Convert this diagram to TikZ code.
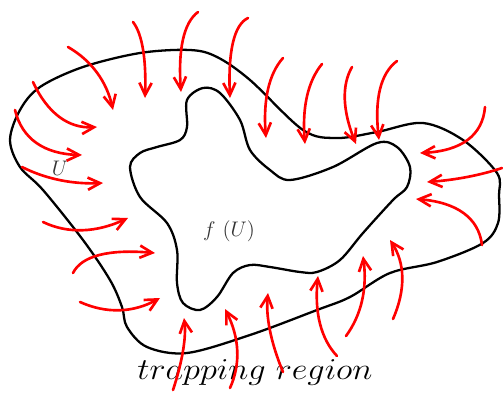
\documentclass[tikz,border=0pt]{standalone}
\usetikzlibrary{arrows.meta,calc}
\begin{document}
\begin{tikzpicture}[x=0.02cm,y=-0.02cm,line cap=round,
  flow/.style={red,line width=1.5pt,-{Straight Barb[length=7pt,width=7pt,line width=1.5pt]}},
  border/.style={black,line width=1.3pt}]
\useasboundingbox (0,0) rectangle (503,392);
% region U
\draw[border] plot[smooth cycle,tension=0.55] coordinates {(10,140) (20,110) (40,87) (83,67) (140,53) (190,50) (217,57) (250,80) (303,130) (337,138) (377,132) (423,123) (463,140) (497,173) (499,195) (498,223) (483,243) (437,262) (390,273) (350,297) (317,310) (250,335) (187,353) (147,347) (127,327) (122,307) (110,280) (83,240) (43,190) (20,167)};
% image f(U)
\draw[border] plot[smooth cycle,tension=0.55] coordinates {(187,100) (203,88) (220,93) (240,120) (250,150) (270,170) (290,180) (333,167) (377,143) (397,147) (410,167) (407,187) (393,200) (363,233) (340,260) (317,272) (300,272) (270,267) (250,265) (233,273) (217,297) (200,310) (183,303) (177,283) (177,250) (167,223) (140,197) (130,167) (140,153) (157,147) (180,140) (187,127)};
\node[text=black!80,font=\fontsize{13}{15}\selectfont] (u) at (60,168) {$U$};
\node[text=black!80,font=\fontsize{12}{14}\selectfont] (fu) at (229,231) {$f\ (U)$};
\node[font=\fontsize{17}{20}\selectfont] (tr) at (255,372) {\scalebox{1.13}[1]{$trapping\ region$}};
% flow lines
\foreach \sx/\sy/\cx/\cy/\ex/\ey in {68/47/103.5/67.5/113/110, 133/22/147/40/145/98, 198/12/176.5/28/181/92, 248/18/227/28/230/98, 283/58/261.5/82/266/138, 322/64/300.5/90/305/144, 352/67/336/94.5/356/144, 397/61/372/79.5/379/140, 485/107/481.5/150/420/153, 502/168/469/179/427/182, 482/245/477/204/416/199, 393/319/412.5/274.5/390/240, 346/336/369.5/304/363/256, 337/356/312.5/330/318/276, 283/372/264.5/327.5/268/293, 230/388/246.5/351.5/225/309, 173/390/187.5/346/184/318, 80/302/120/320/160/298, 73/273/86/247/155/253, 43/222/80.5/240/128/218, 22/167/57.5/185/103/183, 15/110/25.5/153.5/82/155, 33/82/55/129.5/97/127}
  \draw[flow] (\sx,\sy) .. controls ($(\sx,\sy)!0.667!(\cx,\cy)$) and ($(\ex,\ey)!0.667!(\cx,\cy)$) .. (\ex,\ey);
\end{tikzpicture}
\end{document}
